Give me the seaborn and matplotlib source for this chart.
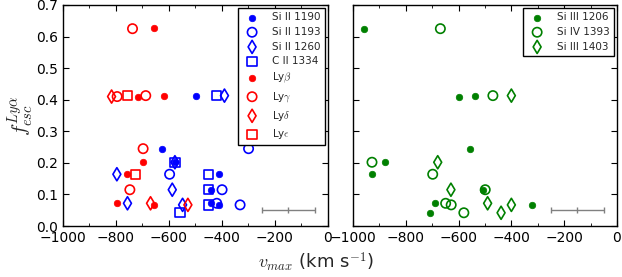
import pandas as pd
import matplotlib.pyplot as plt
import seaborn as sns
from matplotlib.ticker import MultipleLocator

# left panel: Si II / C II and Lyman lines
si2_1190_x = [-499, -626, -577, -409, -439, -439, -409]
si2_1190_y = [0.413, 0.245, 0.202, 0.164, 0.115, 0.072, 0.067]
si2_1193_x = [-299, -597, -399, -419, -331]
si2_1193_y = [0.245, 0.164, 0.115, 0.072, 0.067]
si2_1260_x = [-390, -577, -796, -587, -756, -548]
si2_1260_y = [0.413, 0.202, 0.164, 0.115, 0.072, 0.067]
c2_1334_x = [-420, -577, -449, -449, -449, -558]
c2_1334_y = [0.413, 0.202, 0.164, 0.115, 0.067, 0.042]
lyb_x = [-657, -717, -618, -697, -756, -796, -657]
lyb_y = [0.627, 0.408, 0.413, 0.202, 0.164, 0.072, 0.067]
lyg_x = [-737, -795, -687, -697, -747]
lyg_y = [0.625, 0.410, 0.413, 0.245, 0.115]
lyd_x = [-816, -669, -528]
lyd_y = [0.410, 0.072, 0.067]
lye_x = [-756, -727]
lye_y = [0.413, 0.164]

# right panel: Si III / Si IV
si3_1206_x = [-958, -598, -539, -558, -878, -928, -509, -688, -321, -708]
si3_1206_y = [0.625, 0.408, 0.413, 0.245, 0.202, 0.164, 0.115, 0.072, 0.067, 0.042]
si4_1393_x = [-669, -470, -928, -698, -499, -649, -628, -580]
si4_1393_y = [0.625, 0.413, 0.202, 0.164, 0.115, 0.072, 0.067, 0.042]
si3_1403_x = [-400, -679, -629, -490, -400, -439]
si3_1403_y = [0.413, 0.202, 0.115, 0.072, 0.067, 0.042]

# typical error bar
err_x, err_y, err_dx = -150, 0.05, 100

sns.set_style("ticks")
plt.rcParams.update({
    "font.family": ["DejaVu Sans"],
    "mathtext.fontset": "cm",
    "xtick.direction": "in", "ytick.direction": "in",
    "xtick.top": True, "ytick.right": True,
    "xtick.major.size": 4, "ytick.major.size": 4,
    "xtick.minor.size": 2, "ytick.minor.size": 2,
    "axes.edgecolor": "black", "axes.linewidth": 1.0,
    "xtick.color": "black", "ytick.color": "black",
    "xtick.labelsize": 10, "ytick.labelsize": 10,
})

fig = plt.figure(figsize=(6.22, 2.77), dpi=100)
ax1 = fig.add_axes([0.101, 0.184, 0.426, 0.798])
ax2 = fig.add_axes([0.5675, 0.184, 0.4244, 0.798])


def pts(ax, xs, ys, color, marker, label, filled):
    df = pd.DataFrame({"x": xs, "y": ys})
    if filled:
        sns.scatterplot(data=df, x="x", y="y", ax=ax, color=color, marker=marker,
                        s=22, edgecolor=color, linewidth=0.5, label=label)
    else:
        sns.scatterplot(data=df, x="x", y="y", ax=ax, color=color, marker=marker,
                        s=45, facecolor="none", edgecolor=color, linewidth=1.2, label=label)


pts(ax1, si2_1190_x, si2_1190_y, "b", "o", "Si II 1190", True)
pts(ax1, si2_1193_x, si2_1193_y, "b", "o", "Si II 1193", False)
pts(ax1, si2_1260_x, si2_1260_y, "b", "d", "Si II 1260", False)
pts(ax1, c2_1334_x, c2_1334_y, "b", "s", "C II 1334", False)
pts(ax1, lyb_x, lyb_y, "r", "o", r"Ly$\beta$", True)
pts(ax1, lyg_x, lyg_y, "r", "o", r"Ly$\gamma$", False)
pts(ax1, lyd_x, lyd_y, "r", "d", r"Ly$\delta$", False)
pts(ax1, lye_x, lye_y, "r", "s", r"Ly$\epsilon$", False)

pts(ax2, si3_1206_x, si3_1206_y, "g", "o", "Si III 1206", True)
pts(ax2, si4_1393_x, si4_1393_y, "g", "o", "Si IV 1393", False)
pts(ax2, si3_1403_x, si3_1403_y, "g", "d", "Si III 1403", False)

for ax in (ax1, ax2):
    ax.errorbar(err_x, err_y, xerr=err_dx, color="gray", marker="|", ms=5,
                capsize=2, lw=1)
    ax.set_xlim(-1000, 0)
    ax.set_ylim(0, 0.7)
    ax.xaxis.set_major_locator(MultipleLocator(200))
    ax.xaxis.set_minor_locator(MultipleLocator(100))
    ax.yaxis.set_major_locator(MultipleLocator(0.1))
    ax.set_xlabel("")
    ax.set_ylabel("")
    ax.tick_params(which="both", direction="in", top=True, right=True)
    leg = ax.legend(loc="upper right", fontsize=7.5, scatterpoints=1,
                    fancybox=False, framealpha=1, borderaxespad=0.3,
                    labelspacing=0.45, handletextpad=0.9)
    leg.get_frame().set_edgecolor("black")

ax2.set_yticklabels([])
ax1.set_ylabel(r"$f_{esc}^{Ly\alpha}$", fontsize=15, labelpad=0)
fig.text(0.508, 0.055, r"$v_{max}$ (km s$^{-1}$)", ha="center", va="center", fontsize=13)

fig.savefig("out.png", dpi=100)
